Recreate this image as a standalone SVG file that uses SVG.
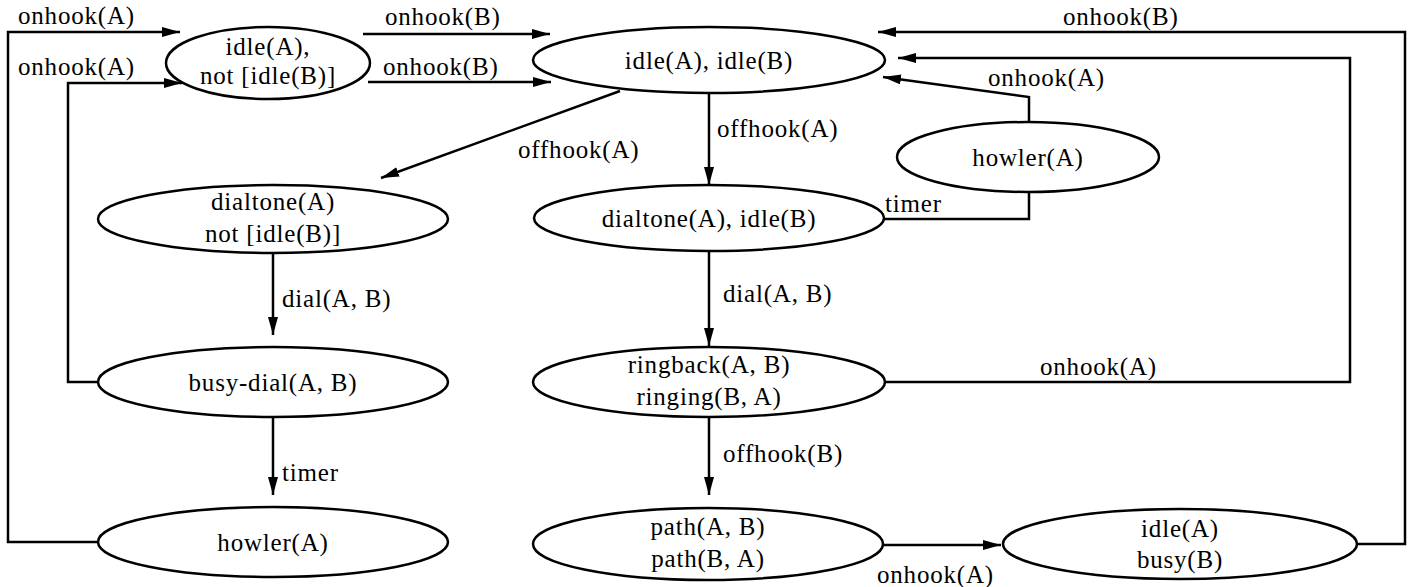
<svg xmlns="http://www.w3.org/2000/svg" width="1408" height="587" viewBox="0 0 1408 587">
<style>
text{font-family:"Liberation Serif","Times New Roman",serif;font-size:25px;letter-spacing:0.8px;fill:#000}
.n text{text-anchor:middle}
ellipse{fill:#fff;stroke:#000;stroke-width:2.5}
.c path{fill:none;stroke:#000;stroke-width:2.5}
.a{marker-end:url(#ah)}
</style>
<defs>
<marker id="ah" markerUnits="userSpaceOnUse" markerWidth="20" markerHeight="12" refX="18" refY="5" orient="auto">
<path d="M0,0 L18,5 L0,10 z" fill="#000"/>
</marker>
</defs>
<rect width="1408" height="587" fill="#fff"/>
<g class="c" id="connectors">
<path class="a" d="M98,542 H8 V32 H180"/>
<path class="a" d="M98,382 H68 V83 H182"/>
<path class="a" d="M363,34 H550"/>
<path class="a" d="M368,82 H551"/>
<path class="a" d="M620,91 L381,178"/>
<path class="a" d="M709,93 V185"/>
<path class="a" d="M1029,122 V97 L883,77"/>
<path d="M1029,193 V219 H883"/>
<path class="a" d="M273,253 V335"/>
<path class="a" d="M709,251 V346"/>
<path class="a" d="M273,417 V495"/>
<path class="a" d="M885,382 H1350 V58 H898"/>
<path class="a" d="M709,418 V495"/>
<path class="a" d="M883,545 H1001"/>
<path class="a" d="M1357,544 H1405 V32 H878"/>
<text x="18" y="24">onhook(A)</text>
<text x="18" y="75">onhook(A)</text>
<text x="385" y="25">onhook(B)</text>
<text x="383" y="75">onhook(B)</text>
<text x="1063" y="25">onhook(B)</text>
<text x="988" y="86">onhook(A)</text>
<text x="518" y="158">offhook(A)</text>
<text x="717" y="137">offhook(A)</text>
<text x="885" y="212">timer</text>
<text x="282" y="307">dial(A, B)</text>
<text x="723" y="302">dial(A, B)</text>
<text x="282" y="481">timer</text>
<text x="1040" y="375">onhook(A)</text>
<text x="723" y="462">offhook(B)</text>
<text x="877" y="583">onhook(A)</text>
</g>
<g class="n" id="n1"><ellipse cx="268" cy="63" rx="102" ry="36"/><text x="268" y="55">idle(A),</text><text x="268" y="84">not [idle(B)]</text></g>
<g class="n" id="n2"><ellipse cx="709" cy="60" rx="176" ry="33"/><text x="709" y="69">idle(A), idle(B)</text></g>
<g class="n" id="n3"><ellipse cx="1028" cy="157" rx="131" ry="35"/><text x="1028" y="166">howler(A)</text></g>
<g class="n" id="n4"><ellipse cx="273" cy="219" rx="175" ry="34"/><text x="273" y="210">dialtone(A)</text><text x="273" y="242">not [idle(B)]</text></g>
<g class="n" id="n5"><ellipse cx="709" cy="218" rx="175" ry="33"/><text x="709" y="227">dialtone(A), idle(B)</text></g>
<g class="n" id="n6"><ellipse cx="273" cy="382" rx="175" ry="35"/><text x="273" y="391">busy-dial(A, B)</text></g>
<g class="n" id="n7"><ellipse cx="709" cy="382" rx="176" ry="35"/><text x="709" y="373">ringback(A, B)</text><text x="709" y="405">ringing(B, A)</text></g>
<g class="n" id="n8"><ellipse cx="273" cy="542" rx="175" ry="35"/><text x="273" y="551">howler(A)</text></g>
<g class="n" id="n9"><ellipse cx="708" cy="544" rx="175" ry="36"/><text x="708" y="535">path(A, B)</text><text x="708" y="567">path(B, A)</text></g>
<g class="n" id="n10"><ellipse cx="1180" cy="544" rx="177" ry="35"/><text x="1180" y="537">idle(A)</text><text x="1180" y="568">busy(B)</text></g>
</svg>
